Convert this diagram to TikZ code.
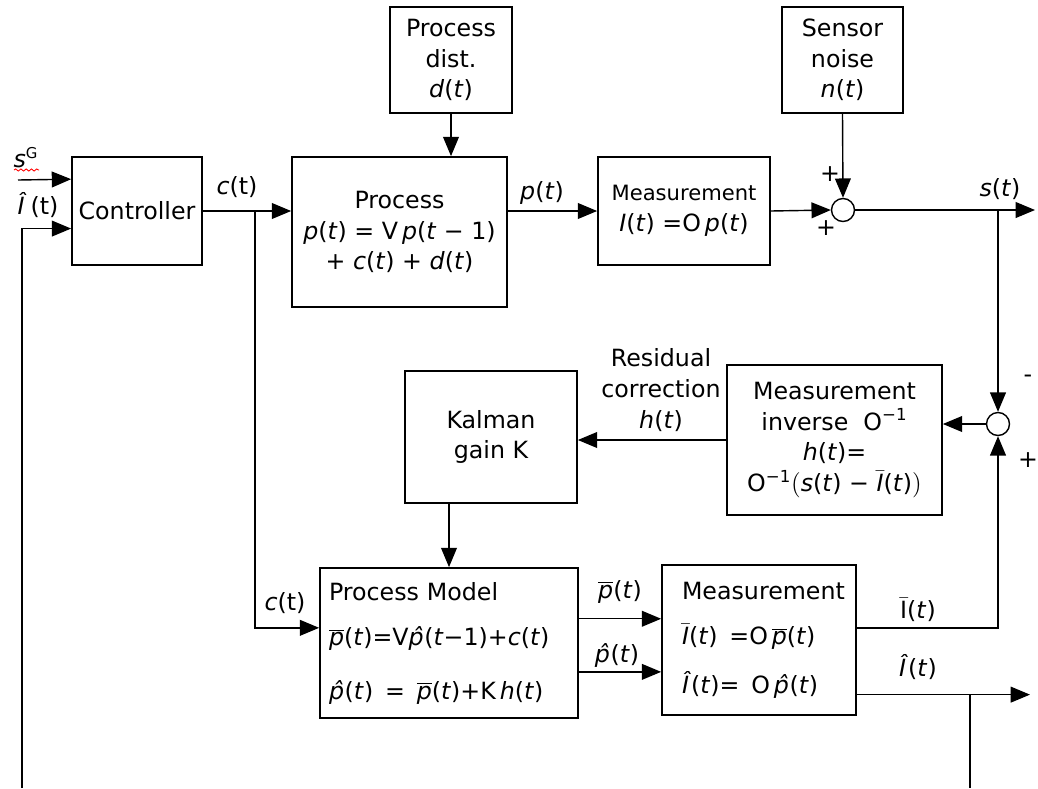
\documentclass[tikz,border=0pt]{standalone}
\usepackage{fontspec}
\setmainfont{DejaVu Sans}
\usetikzlibrary{arrows.meta, positioning, calc, decorations.pathmorphing}

\newcommand{\pbar}{$\overline{\textit{p}}$}
\newcommand{\phat}{\textit{\^{p}}}
\newcommand{\Ibar}{$\bar{\textit{I}}$}
\newcommand{\Ihat}{\textit{\^{I}}}
\newcommand{\vt}{(\textit{t})}

\begin{document}
\begin{tikzpicture}[
  x=0.02cm, y=-0.02cm,
  >={Triangle[length=11pt, width=9pt]}, line width=0.8pt,
  block/.style = {draw, rectangle, align=center, inner sep=2pt, line width=1pt},
  sum/.style   = {draw, circle, inner sep=0pt, minimum size=0.46cm},
  lbl/.style   = {inner sep=1pt},
  font=\fontsize{13.5}{17.5}\selectfont,
]
  \useasboundingbox (0,0) rectangle (1038,788);

  % upper loop
  \node[block, minimum width=2.6cm,  minimum height=2.16cm] (ctrl)  at (137,211)   {Controller};
  \node[block, minimum width=2.44cm, minimum height=2.12cm] (dist)  at (451,60)    {Process\\dist.\\\textit{d}\vt};
  \node[block, minimum width=4.3cm,  minimum height=3cm]    (proc)  at (399.5,232) {Process\\\textit{p}\vt{} = V\,\textit{p}(\textit{t} − 1)\\+ \textit{c}\vt{} + \textit{d}\vt};
  \node[block, minimum width=3.44cm, minimum height=2.16cm] (meas)  at (684,211)   {{\fontsize{12}{14}\selectfont Measurement}\\\textit{I}\vt{} =O\,\textit{p}\vt};
  \node[block, minimum width=2.42cm, minimum height=2.12cm] (noise) at (842.5,60)  {Sensor\\noise\\\textit{n}\vt};
  \node[sum] (sumA) at (843,210) {};
  \node[sum] (sumB) at (998,424) {};

  % estimator
  \node[block, minimum width=4.3cm,  minimum height=3cm]    (minv)  at (834.5,440) {Measurement\\inverse\ \ O\textsuperscript{−1}\\\textit{h}\vt=\\O\textsuperscript{−1}$\Bigl($\textit{s}\vt{} − \Ibar\vt$\Bigr)$};
  \node[block, minimum width=3.44cm, minimum height=2.64cm] (kal)   at (491,437)   {Kalman\\gain K};
  \node[block, minimum width=5.16cm, minimum height=3cm, align=left, text width=4.8cm] (pmod) at (449,643)
    {Process Model\\[0.3cm]\pbar\vt=V\phat(\textit{t}−1)+\textit{c}\vt\\[0.45cm]\phat\vt{} \,=\, \pbar\vt+K\,\textit{h}\vt};
  \node[block, minimum width=3.88cm, minimum height=3cm, align=left, text width=3.08cm] (mest) at (759,640)
    {Measurement\\[0.3cm]\Ibar\vt{} \,=O\,\pbar\vt\\[0.35cm]\Ihat\vt= \,O\,\phat\vt};

  % labels
  \node[lbl] (sGlbl)   at (26,158)   {\textit{s}\textsuperscript{\fontsize{8.5}{9}\selectfont G}};
  \node[lbl] (Ihatin)  at (38,205)   {\Ihat\,(t)};
  \node[lbl] (clbl)    at (237,187)  {\textit{c}(t)};
  \node[lbl] (plbl)    at (542,193)  {\textit{p}\vt};
  \node[lbl] (plusA)   at (830,174)  {+};
  \node[lbl] (plusB)   at (826,228)  {+};
  \node[lbl] (slbl)    at (1000,189) {\textit{s}\vt};
  \node[lbl] (minusB)  at (1028,379) {-};
  \node[lbl] (plusC)   at (1028,460) {+};
  \node[lbl, align=center] (reslbl) at (661,390) {Residual\\correction\\\textit{h}\vt};
  \node[lbl] (clbl2)   at (285,603)  {\textit{c}(t)};
  \node[lbl] (pbarlbl) at (620,592)  {\pbar\vt};
  \node[lbl] (phatlbl) at (617,655)  {\phat\vt};
  \node[lbl] (Ibarlbl) at (918,610)  {$\bar{\hbox{I}}$\vt};
  \node[lbl] (Ihatlbl) at (918,667)  {\Ihat\vt};

  \draw[red, line width=0.5pt, decorate, decoration={snake, amplitude=0.6pt, segment length=3pt}] (14,170) -- (39,170);

  % free ends
  \coordinate (sGin) at (18,180);
  \coordinate (fbin) at (22,788);
  \coordinate (cbr)  at (255,211);
  \coordinate (sout) at (1035,0);
  \coordinate (Iend) at (1030,0);
  \coordinate (Ibr)  at (970,0);

  \coordinate (ctrlA) at ($(ctrl.north west)!0.21!(ctrl.south west)$);
  \coordinate (ctrlB) at ($(ctrl.north west)!0.66!(ctrl.south west)$);
  \coordinate (pmodc) at ($(pmod.north west)!0.4!(pmod.south west)$);
  \coordinate (mestA) at ($(mest.north west)!0.36!(mest.south west)$);
  \coordinate (mestB) at ($(mest.north west)!0.71!(mest.south west)$);
  \coordinate (mestC) at ($(mest.north east)!0.42!(mest.south east)$);
  \coordinate (mestD) at ($(mest.north east)!0.86!(mest.south east)$);

  \draw[->] (sGin) -- (ctrlA);
  \draw[->] (fbin) |- (ctrlB);
  \draw[->] (ctrl.east) -- (ctrl.east -| proc.west);
  \draw[->] (cbr) |- (pmodc);
  \draw[->] (dist.south) -- (dist.south |- proc.north);
  \draw[->] (proc.east |- meas.west) -- (meas.west);
  \draw[->] (meas.east) -- (sumA.west);
  \draw[->] (noise.south) -- (sumA.north);
  \draw[->] (sumA.east) -- (sumA.east -| sout);
  \draw[->] (sumB |- sumA) -- (sumB.north);
  \draw[->] (sumB.west) -- (sumB.west -| minv.east);
  \draw[->] (minv.west) -- (minv.west -| kal.east);
  \draw[->] (pmod.north |- kal.south) -- (pmod.north);
  \draw[->] (pmod.east |- mestA) -- (mestA);
  \draw[->] (pmod.east |- mestB) -- (mestB);
  \draw[->] (mestC) -| (sumB.south);
  \draw[->] (mestD) -- (mestD -| Iend);
  \draw (mestD -| Ibr) -- (Ibr |- fbin);
\end{tikzpicture}
\end{document}
